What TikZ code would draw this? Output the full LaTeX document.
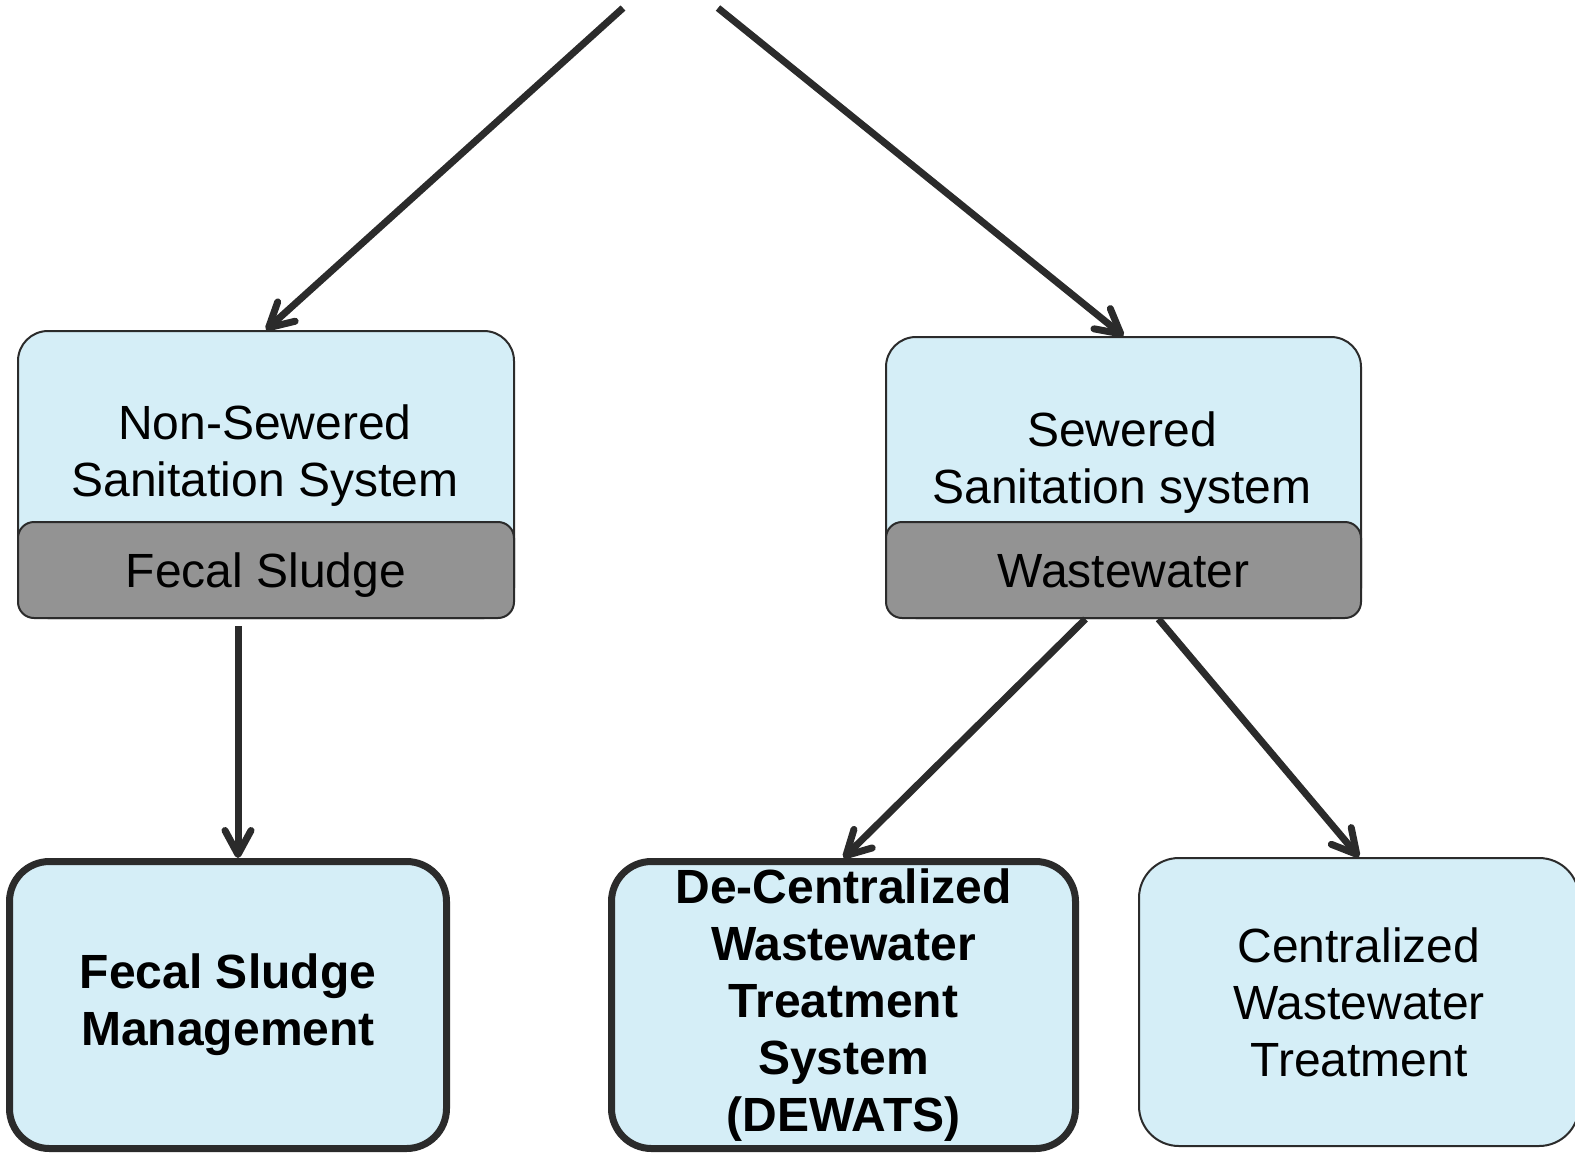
\documentclass[tikz,border=0pt]{standalone}
\usepackage{fontspec}
\setmainfont{Liberation Sans}
\usepackage{tikz}
\usetikzlibrary{positioning}
\usetikzlibrary{arrows.meta}
\usepackage{xcolor}
\definecolor{boxblue}{HTML}{D5EEF7}
\definecolor{bandgray}{HTML}{939393}
\definecolor{edge}{HTML}{2B2B2B}

\begin{document}
\begin{tikzpicture}[x=0.5pt, y=-0.5pt,
        txt/.style={font=\fontsize{24}{28.5}\selectfont, align=center},
        sysbox/.style={draw=edge, fill=boxblue, line width=1pt, rounded corners=15pt, anchor=north west, inner sep=0pt},
        band/.style={draw=edge, fill=bandgray, line width=1pt, rounded corners=8pt, anchor=north west, inner sep=0pt, txt, text height=17pt, text depth=0pt},
        endbox/.style={draw=edge, fill=boxblue, line width=1pt, rounded corners=20pt, anchor=north west, inner sep=0pt, txt},
        heavy/.style={line width=3.5pt, font=\fontsize{24}{28.5}\selectfont\bfseries},
        flow/.style={draw=edge, line width=3.5pt, -{Straight Barb[length=12pt,width=13pt,round]}}]
        \useasboundingbox (0,0) rectangle (1575,1153);

        \node[sysbox, minimum width=248pt, minimum height=143.5pt] (nss) at (17,330) {};
        \node[band, minimum width=248pt, minimum height=48pt] (nssband) at (17,521) {Fecal Sludge};
        \node[txt] (nsstext) at (265,456) {Non-Sewered\\Sanitation System};

        \node[sysbox, minimum width=237.5pt, minimum height=140.5pt] (ss) at (885,336) {};
        \node[band, minimum width=237.5pt, minimum height=48pt] (ssband) at (885,521) {Wastewater};
        \node[txt] (sstext) at (1122,463) {Sewered\\Sanitation system};

        \node[endbox, heavy, minimum width=218.5pt, minimum height=143.5pt] (fsm) at (6,858) {Fecal Sludge\\Management};
        \node[endbox, heavy, minimum width=232pt, minimum height=143.5pt] (dewats) at (608,858) {De-Centralized\\Wastewater\\Treatment\\System\\(DEWATS)};
        \node[endbox, minimum width=220pt, minimum height=144pt] (cwt) at (1138,857) {Centralized\\Wastewater\\Treatment};

        \coordinate (srcl) at (623,8);
        \coordinate (srcr) at (718,8);
        \coordinate (fsmin) at ([xshift=5pt]fsm.north);
        \coordinate (wwl) at ([xshift=-19pt]ssband.south);
        \coordinate (wwr) at ([xshift=17.5pt]ssband.south);

        \foreach \a/\b in {srcl/nss.north, srcr/ss.north, wwl/dewats.north, wwr/cwt.north}
        {
            \draw[flow] (\a) -- (\b);
        }
        \draw[flow, shorten <=3.5pt] (nssband.south -| fsmin) -- (fsmin);
    \end{tikzpicture}
\end{document}
